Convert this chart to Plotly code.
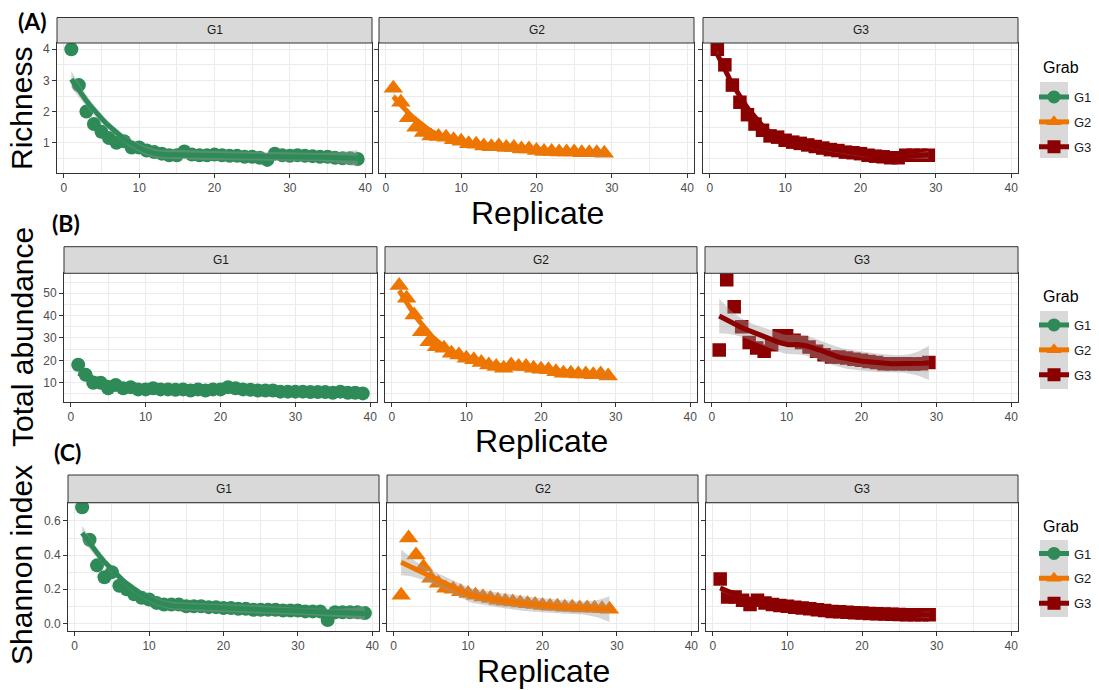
import numpy as np
import plotly.graph_objects as go

# ---------------- data ----------------
groups = ["G1", "G2", "G3"]
replicate_g1 = list(range(1, 40))
replicate_g2 = list(range(1, 30))
replicate_g3 = list(range(1, 30))

richness_g1 = [4.0, 2.85, 2.0, 1.6, 1.35, 1.15, 1.0, 1.05, 0.85, 0.85,
               0.75, 0.7, 0.65, 0.6, 0.6, 0.72, 0.62, 0.6, 0.6, 0.62,
               0.6, 0.58, 0.58, 0.55, 0.55, 0.52, 0.45, 0.65, 0.6, 0.58,
               0.6, 0.58, 0.57, 0.55, 0.55, 0.52, 0.5, 0.5, 0.48]
richness_g2 = [2.75, 2.3, 1.8, 1.5, 1.33, 1.22, 1.2, 1.18, 1.1, 1.05,
               0.97, 0.95, 0.9, 0.87, 0.9, 0.85, 0.85, 0.8, 0.8, 0.75,
               0.72, 0.72, 0.7, 0.7, 0.7, 0.68, 0.68, 0.68, 0.66]
richness_g3 = [4.0, 3.5, 2.85, 2.3, 1.9, 1.6, 1.4, 1.22, 1.18, 1.08,
               1.02, 0.98, 0.93, 0.88, 0.83, 0.78, 0.75, 0.7, 0.68, 0.65,
               0.6, 0.57, 0.55, 0.52, 0.52, 0.6, 0.6, 0.6, 0.6]

abundance_g1 = [18, 13.5, 10, 10, 7.5, 9, 7.5, 8, 7, 7,
                7.5, 7, 7, 6.8, 7, 6.5, 7, 6.5, 7, 7,
                8, 7.5, 7, 6.8, 6.5, 6.5, 6.5, 6, 6, 6,
                6, 5.8, 5.8, 5.8, 5.5, 6, 5.5, 5.5, 5.2]
abundance_g2 = [53.5, 47.8, 40.3, 32.8, 28.3, 26.1, 25.4, 23.2, 22.4, 20.9,
                20.2, 19, 17.9, 17.2, 16.4, 17.9, 17.2, 17.2, 16.4, 16,
                15.8, 14.9, 14.2, 14.2, 13.9, 13.9, 13.5, 13.9, 13]
abundance_g3 = [24.6, 56, 44, 35, 28, 25.5, 24, 27, 31, 31,
                29, 28, 26, 24, 22.5, 21.5, 21.5, 21, 20.5, 20,
                19.5, 19, 18.5, 18.5, 18.5, 18.5, 18.3, 18.5, 19]

shannon_g1 = [0.68, 0.49, 0.34, 0.27, 0.30, 0.22, 0.20, 0.17, 0.15, 0.14,
              0.12, 0.11, 0.11, 0.11, 0.10, 0.10, 0.10, 0.095, 0.095, 0.09,
              0.09, 0.085, 0.085, 0.08, 0.08, 0.08, 0.08, 0.075, 0.075, 0.075,
              0.07, 0.07, 0.07, 0.02, 0.065, 0.065, 0.065, 0.065, 0.06]
shannon_g2 = [0.165, 0.5, 0.4, 0.33, 0.265, 0.235, 0.205, 0.2, 0.185, 0.175,
              0.165, 0.155, 0.145, 0.135, 0.13, 0.125, 0.12, 0.115, 0.11, 0.105,
              0.1, 0.1, 0.095, 0.095, 0.09, 0.09, 0.088, 0.085, 0.082]
shannon_g3 = [0.26, 0.155, 0.155, 0.135, 0.11, 0.135, 0.12, 0.11, 0.105, 0.1,
              0.095, 0.09, 0.085, 0.08, 0.075, 0.07, 0.068, 0.065, 0.062, 0.06,
              0.058, 0.056, 0.055, 0.054, 0.052, 0.05, 0.05, 0.05, 0.05]

x_ticks = [0, 10, 20, 30, 40]
richness_ticks = [1, 2, 3, 4]
abundance_ticks = [10, 20, 30, 40, 50]
shannon_ticks = [0.0, 0.2, 0.4, 0.6]

# ---------------- styling ----------------
W, H = 1099, 690
COLORS = {"G1": "#2E8B57", "G2": "#EE7600", "G3": "#8B0000"}
SYMBOLS = {"G1": "circle", "G2": "triangle-up", "G3": "square"}
SIZES = {"G1": 14, "G2": 17, "G3": 13.5}
FONT = "Liberation Sans, Arial, sans-serif"
GRID = "#EBEBEB"
BORDER = "#333333"


def fx(p):
    return p / W


def fy(p):
    return 1 - p / H


def t975(df):
    z = 1.959964
    g1 = (z ** 3 + z) / 4
    g2 = (5 * z ** 5 + 16 * z ** 3 + 3 * z) / 96
    g3 = (3 * z ** 7 + 19 * z ** 5 + 17 * z ** 3 - 15 * z) / 384
    return z + g1 / df + g2 / df ** 2 + g3 / df ** 3


def loess_fit(x, y, xs, span=0.75):
    x = np.asarray(x, float)
    y = np.asarray(y, float)
    n = len(x)
    q = int(np.floor(n * span))

    def op_row(x0):
        d = np.abs(x - x0)
        h = np.sort(d)[q - 1]
        u = np.clip(d / h, 0, 1)
        w = (1 - u ** 3) ** 3
        X = np.column_stack([np.ones(n), x - x0, (x - x0) ** 2])
        XtW = X.T * w
        A = XtW @ X
        return np.linalg.solve(A, XtW)[0]

    Ld = np.array([op_row(v) for v in x])
    Ls = np.array([op_row(v) for v in xs])
    fit = Ls @ y
    res = y - Ld @ y
    IL = np.eye(n) - Ld
    M = IL.T @ IL
    d1 = np.trace(M)
    d2 = np.trace(M @ M)
    sigma = np.sqrt(np.sum(res ** 2) / d1)
    se = sigma * np.sqrt(np.sum(Ls ** 2, axis=1))
    t = t975(d1 ** 2 / d2)
    return fit, fit - t * se, fit + t * se


rows = [
    dict(label="(A)", label_pos=(32, 21), ytitle="Richness", ytitle_pos=(21, 109),
         series=[(replicate_g1, richness_g1), (replicate_g2, richness_g2), (replicate_g3, richness_g3)],
         yrange=[0.03, 4.2], yticks=richness_ticks, yfmt="{:g}", yminor=[0.5, 1.5, 2.5, 3.5],
         strip_top=17.5, top=43, bottom=173,
         panels=[(57, 372), (379, 694), (703, 1018)], xtitle_y=213,
         grab_y=68, key_bg=(82, 158), legend_top=82),
    dict(label="(B)", label_pos=(66, 223), ytitle="Total abundance", ytitle_pos=(22, 337),
         series=[(replicate_g1, abundance_g1), (replicate_g2, abundance_g2), (replicate_g3, abundance_g3)],
         yrange=[1.5, 58.9], yticks=abundance_ticks, yfmt="{:g}", yminor=[5, 15, 25, 35, 45, 55],
         strip_top=246.7, top=273.3, bottom=401.7,
         panels=[(64, 377), (385, 697), (705, 1018)], xtitle_y=441,
         grab_y=297, key_bg=(311, 389), legend_top=310),
    dict(label="(C)", label_pos=(67, 452), ytitle="Shannon index", ytitle_pos=(21, 565),
         series=[(replicate_g1, shannon_g1), (replicate_g2, shannon_g2), (replicate_g3, shannon_g3)],
         yrange=[-0.043, 0.707], yticks=shannon_ticks, yfmt="{:.1f}", yminor=[0.1, 0.3, 0.5, 0.7],
         strip_top=475, top=502.7, bottom=630.7,
         panels=[(68, 379), (387, 698), (706, 1018)], xtitle_y=671,
         grab_y=526, key_bg=(540, 617), legend_top=538.5),
]

fig = go.Figure()
layout = dict(width=W, height=H, margin=dict(l=0, r=0, t=0, b=0),
              paper_bgcolor="white", plot_bgcolor="white",
              font=dict(family=FONT, color="#1A1A1A"), showlegend=True)
shapes, annotations = [], []

for r, row in enumerate(rows):
    legname = "legend" if r == 0 else f"legend{r + 1}"
    for c, g in enumerate(groups):
        idx = r * 3 + c + 1
        xa = "x" if idx == 1 else f"x{idx}"
        ya = "y" if idx == 1 else f"y{idx}"
        left, right = row["panels"][c]
        xs_data, ys_data = row["series"][c]
        col = COLORS[g]
        # points
        fig.add_trace(go.Scatter(
            x=xs_data, y=ys_data, mode="markers", xaxis=xa, yaxis=ya, showlegend=False,
            marker=dict(symbol=SYMBOLS[g], size=SIZES[g], color=col, line=dict(width=0)),
            hoverinfo="skip"))
        # loess smooth with ribbon
        grid_x = np.linspace(min(xs_data), max(xs_data), 80)
        fit, lo, hi = loess_fit(xs_data, ys_data, grid_x)
        fig.add_trace(go.Scatter(
            x=list(grid_x) + list(grid_x[::-1]), y=list(hi) + list(lo[::-1]),
            mode="lines", fill="toself", fillcolor="rgba(153,153,153,0.4)",
            line=dict(width=0), xaxis=xa, yaxis=ya, showlegend=False, hoverinfo="skip"))
        fig.add_trace(go.Scatter(
            x=grid_x, y=fit, mode="lines", line=dict(color=col, width=5),
            xaxis=xa, yaxis=ya, showlegend=False, hoverinfo="skip"))
        # legend entry
        fig.add_trace(go.Scatter(
            x=[None], y=[None], mode="lines+markers", name=g, xaxis=xa, yaxis=ya,
            marker=dict(symbol=SYMBOLS[g], size=13, color=col),
            line=dict(color=col, width=5), legend=legname,
            legendgroup=f"{r}{g}", showlegend=True))

        common = dict(showline=True, mirror=True, linecolor=BORDER, linewidth=1,
                      ticks="outside", ticklen=4, tickcolor=BORDER, tickwidth=1,
                      showgrid=True, gridcolor=GRID, gridwidth=1.3, zeroline=False,
                      tickfont=dict(size=12, color="#4D4D4D", family=FONT))
        layout[f"xaxis{'' if idx == 1 else idx}"] = dict(
            domain=[fx(left), fx(right)], range=[-0.9, 40.9], anchor=ya,
            tickvals=x_ticks, ticktext=[str(v) for v in x_ticks],
            minor=dict(tickvals=[5, 15, 25, 35], showgrid=True, gridcolor=GRID, gridwidth=0.7),
            **common)
        layout[f"yaxis{'' if idx == 1 else idx}"] = dict(
            domain=[fy(row["bottom"]), fy(row["top"])], range=row["yrange"], anchor=xa,
            tickvals=row["yticks"], ticktext=[row["yfmt"].format(v) for v in row["yticks"]],
            showticklabels=(c == 0),
            minor=dict(tickvals=row["yminor"], showgrid=True, gridcolor=GRID, gridwidth=0.7),
            **common)
        # strip
        shapes.append(dict(type="rect", xref="paper", yref="paper",
                           x0=fx(left), x1=fx(right), y0=fy(row["top"]), y1=fy(row["strip_top"]),
                           fillcolor="#D9D9D9", line=dict(color=BORDER, width=1), layer="above"))
        annotations.append(dict(xref="paper", yref="paper", x=fx((left + right) / 2),
                                y=fy((row["top"] + row["strip_top"]) / 2), text=g, showarrow=False,
                                xanchor="center", yanchor="middle",
                                font=dict(size=12, color="#1A1A1A", family=FONT)))

    p_left = row["panels"][0][0]
    p_right = row["panels"][2][1]
    annotations.append(dict(xref="paper", yref="paper", x=fx((p_left + p_right) / 2),
                            y=fy(row["xtitle_y"]), text="Replicate", showarrow=False,
                            xanchor="center", yanchor="middle",
                            font=dict(size=32, color="black", family=FONT)))
    annotations.append(dict(xref="paper", yref="paper", x=fx(row["ytitle_pos"][0]),
                            y=fy(row["ytitle_pos"][1]), text=row["ytitle"], showarrow=False,
                            textangle=-90, xanchor="center", yanchor="middle",
                            font=dict(size=30, color="black", family=FONT)))
    annotations.append(dict(xref="paper", yref="paper", x=fx(row["label_pos"][0]),
                            y=fy(row["label_pos"][1]), text="<b>" + row["label"] + "</b>",
                            showarrow=False, xanchor="center", yanchor="middle",
                            font=dict(size=23, color="black", family="Lato, Open Sans, sans-serif")))
    annotations.append(dict(xref="paper", yref="paper", x=fx(1041), y=fy(row["grab_y"]),
                            text="Grab", showarrow=False, xanchor="left", yanchor="middle",
                            font=dict(size=16, color="black", family=FONT)))
    shapes.append(dict(type="rect", xref="paper", yref="paper",
                       x0=fx(1040), x1=fx(1068), y0=fy(row["key_bg"][1]), y1=fy(row["key_bg"][0]),
                       fillcolor="#D9D9D9", line=dict(width=0), layer="below"))
    layout[legname] = dict(x=fx(1034), y=fy(row["legend_top"]), xanchor="left", yanchor="top",
                           bgcolor="rgba(0,0,0,0)", borderwidth=0, traceorder="grouped",
                           tracegroupgap=5, font=dict(size=13, color="#1A1A1A", family=FONT),
                           itemclick=False, itemdoubleclick=False)

layout["shapes"] = shapes
layout["annotations"] = annotations
fig.update_layout(**layout)

fig.write_html("out.html", config={"displayModeBar": False},
               post_script="document.body.style.margin='0';document.body.style.overflow='hidden';")
